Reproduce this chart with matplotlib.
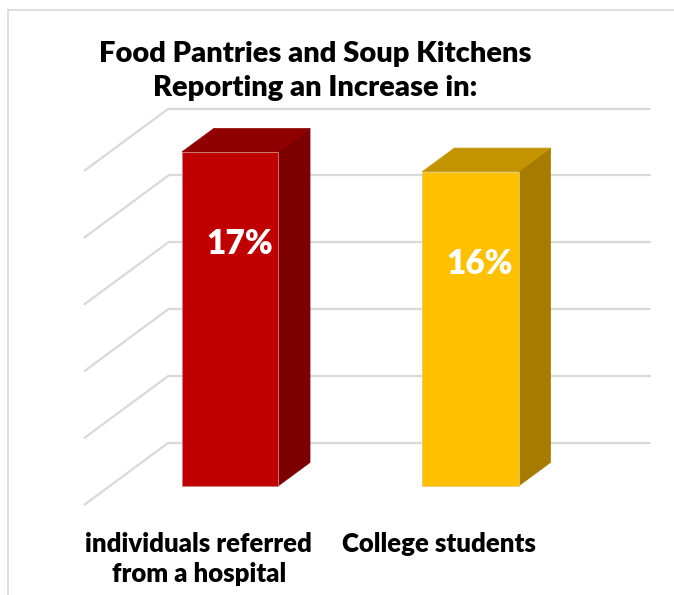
import numpy as np
import matplotlib.pyplot as plt
from matplotlib.patches import Polygon
from matplotlib.lines import Line2D

# survey results
categories = ["individuals referred\nfrom a hospital", "College students"]
values = [17, 16]
labels = ["17%", "16%"]
front_colors = ["#C00000", "#FFC000"]
side_colors = ["#7C0000", "#A67C00"]
top_colors = ["#900000", "#C49400"]

title = "Food Pantries and Soup Kitchens\nReporting an Increase in:"

plt.rcParams['font.family'] = ['Lato', 'DejaVu Sans']

# fake 3d box: x runs -0.5..1.5, depth -0.3 (front edge) .. 0.7 (back wall)
top_val = 17.0
px_per_x = 240.5
px_per_v = 334.0 / top_val
DX = 84.0 / px_per_x      # shift per unit of depth
DY = 62.0 / px_per_v
bar_w = 0.4
bar_d = 0.38
wall_d = 0.7
front_d = -0.3
x_lo, x_hi = -0.5, 1.5


def proj(x, v, d):
    return x + d * DX, v + d * DY


fig = plt.figure(figsize=(6.74, 5.95), dpi=100)
ax = fig.add_axes([0, 0, 1, 1])
ax.set_xlim(-230 / px_per_x, 444 / px_per_x)
ax.set_ylim(-109 / px_per_v, 486 / px_per_v)
ax.axis('off')

grid_c = "#D9D9D9"
for g in np.linspace(0, top_val, 6):
    bx0, by0 = proj(x_lo, g, wall_d)
    bx1, by1 = proj(x_hi, g, wall_d)
    fx, fy = proj(x_lo, g, front_d)
    ax.plot([bx0, bx1], [by0, by1], color=grid_c, lw=1.6, zorder=1,
            solid_capstyle='round')
    ax.plot([bx0, fx], [by0, fy], color=grid_c, lw=1.6, zorder=1,
            solid_capstyle='round')

xs = np.arange(len(values))
ax.bar(xs, values, width=bar_w, color=front_colors, zorder=3,
       edgecolor=["#D08080", "#E8C870"], linewidth=0.6)

for x, v, sc, tc in zip(xs, values, side_colors, top_colors):
    r = x + bar_w / 2
    l = x - bar_w / 2
    side = [proj(r, 0, 0), proj(r, 0, bar_d), proj(r, v, bar_d), proj(r, v, 0)]
    top = [proj(l, v, 0), proj(r, v, 0), proj(r, v, bar_d), proj(l, v, bar_d)]
    ax.add_patch(Polygon(side, closed=True, facecolor=sc, edgecolor=sc,
                         lw=0.5, zorder=2))
    ax.add_patch(Polygon(top, closed=True, facecolor=tc, edgecolor=tc,
                         lw=0.5, zorder=2))

for x, v, lab in zip(xs, values, labels):
    ax.text(x + 0.04, v - 4.7, lab, color="white", fontsize=24,
            fontweight='heavy', ha='center', va='center', zorder=4)

for x, cat in zip(xs, categories):
    ax.text(x - 0.13, -2.35, cat, fontsize=18.5, fontweight='heavy',
            ha='center', va='top', linespacing=1.3, color="#000000")

fig.text(315 / 674, 1 - 41 / 595, title, fontsize=21, fontweight='heavy',
         ha='center', va='top', linespacing=1.38)

# chart border (only the top and left edges fall inside the image)
fig.add_artist(Line2D([8 / 674, 8 / 674], [0, 1 - 10 / 595],
                      transform=fig.transFigure, color=grid_c, lw=1.2))
fig.add_artist(Line2D([8 / 674, 1], [1 - 10 / 595, 1 - 10 / 595],
                      transform=fig.transFigure, color=grid_c, lw=1.2))

fig.savefig("out.png", dpi=100, facecolor="white")
